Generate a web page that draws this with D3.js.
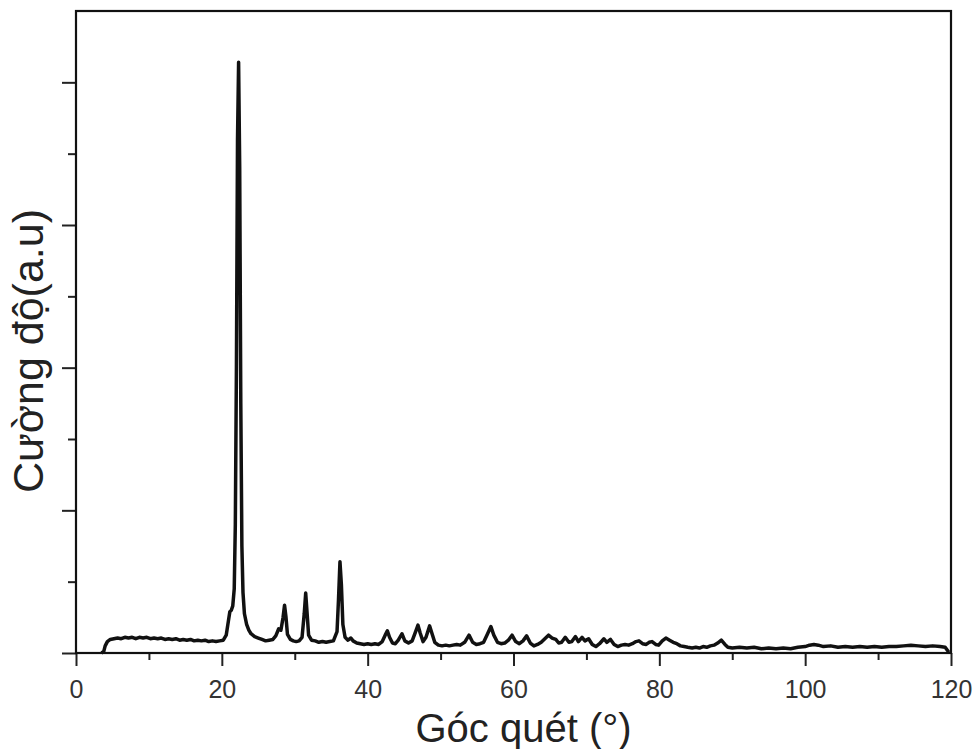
<!DOCTYPE html>
<html>
<head>
<meta charset="utf-8">
<script src="https://cdn.jsdelivr.net/npm/d3@7/dist/d3.min.js"></script>
<style>
  html, body { margin: 0; padding: 0; background: #fff; }
  svg { display: block; }
  text { font-family: "Liberation Sans", Arial, sans-serif; }
</style>
</head>
<body>
<svg id="chart" width="979" height="749"></svg>
<script>
// ---- data (2θ angle in degrees, intensity in arbitrary units) ----
const angles = [
  3.5, 3.8, 4.0, 4.3, 4.7, 5.2, 5.7, 6.2, 6.7, 7.2, 7.7, 8.2, 8.7, 9.2, 9.7, 10.2, 10.7, 11.2, 11.7, 12.2,
  12.7, 13.2, 13.7, 14.2, 14.7, 15.2, 15.7, 16.2, 16.7, 17.2, 17.7, 18.2, 18.7, 19.2, 19.7, 20.2, 20.6, 20.9,
  21.1, 21.3, 21.5, 21.7, 21.85, 22.0, 22.15, 22.3, 22.45, 22.6, 22.75, 22.9, 23.1, 23.4, 23.7, 24.0, 24.5,
  25.0, 25.5, 26.0, 26.5, 27.0, 27.4, 27.8, 28.1, 28.4, 28.6, 28.8, 29.0, 29.4, 29.8, 30.2, 30.6, 31.0, 31.3,
  31.5, 31.7, 31.9, 32.3, 32.8, 33.3, 33.8, 34.3, 34.8, 35.3, 35.8, 36.0, 36.2, 36.4, 36.6, 36.9, 37.3, 37.7,
  38.0, 38.5, 39.0, 39.5, 40.0, 40.5, 41.0, 41.5, 42.0, 42.4, 42.7, 43.0, 43.4, 43.8, 44.2, 44.7, 45.1, 45.6,
  46.1, 46.5, 46.9, 47.2, 47.6, 48.0, 48.5, 48.8, 49.2, 49.7, 50.2, 50.7, 51.2, 51.7, 52.2, 52.7, 53.3, 53.9,
  54.4, 54.9, 55.4, 55.9, 56.4, 56.9, 57.3, 57.8, 58.3, 58.8, 59.3, 59.8, 60.3, 60.8, 61.3, 61.8, 62.3, 62.8,
  63.3, 63.8, 64.3, 64.8, 65.3, 65.8, 66.2, 66.6, 67.1, 67.6, 68.0, 68.5, 68.9, 69.4, 69.8, 70.3, 70.8, 71.3,
  71.8, 72.4, 72.8, 73.3, 73.8, 74.3, 74.8, 75.3, 75.8, 76.3, 76.8, 77.2, 77.7, 78.2, 78.6, 79.0, 79.5, 79.9,
  80.4, 80.9, 81.4, 81.9, 82.4, 82.9, 83.4, 83.9, 84.5, 85.0, 85.5, 86.0, 86.5, 87.0, 87.5, 88.0, 88.5, 89.0,
  89.4, 90.0, 91.0, 92.0, 93.0, 94.0, 95.0, 96.0, 97.0, 98.0, 99.0, 100.0, 100.6, 101.2, 101.8, 102.5, 103.5,
  104.5, 105.5, 106.5, 107.5, 108.5, 109.5, 110.5, 111.5, 112.5, 113.5, 114.5, 115.5, 116.5, 117.5, 118.5,
  119.2, 119.7
];
const intensity = [
  0, 20, 100, 160, 190, 200, 210, 200, 220, 210, 220, 200, 220, 210, 220, 200, 210, 200, 210, 190,
  200, 190, 200, 180, 190, 180, 190, 170, 180, 170, 180, 160, 170, 160, 170, 180, 250, 450,
  580, 600, 660, 900, 1800, 4000, 7200, 8280, 6800, 3500, 1500, 850, 550, 400, 320, 270, 230,
  210, 190, 170, 180, 190, 240, 340, 320, 500, 670, 500, 260, 190, 170, 160, 170, 220, 550,
  840, 550, 250, 180, 170, 150, 160, 150, 160, 170, 300, 750, 1280, 950, 400, 220, 180, 210,
  170, 140, 130, 120, 130, 120, 130, 120, 160, 250, 310, 220, 140, 130, 180, 270, 170, 140,
  170, 280, 390, 280, 160, 220, 380, 280, 150, 110, 100, 110, 100, 110, 120, 110, 150, 250,
  150, 120, 130, 150, 260, 370, 250, 150, 130, 140, 180, 250, 160, 130, 170, 240, 140, 100,
  120, 150, 200, 250, 210, 190, 140, 150, 220, 150, 160, 230, 160, 220, 170, 200, 120, 90,
  130, 200, 150, 190, 120, 90, 110, 120, 110, 130, 160, 170, 130, 120, 150, 160, 120, 110,
  170, 210, 180, 150, 130, 100, 90, 80, 70, 80, 70, 90, 80, 100, 110, 140, 180, 120,
  80, 70, 80, 70, 80, 60, 70, 60, 70, 60, 80, 90, 110, 120, 110, 90, 100,
  80, 90, 80, 90, 80, 90, 80, 90, 90, 100, 110, 100, 90, 100, 90,
  80, 10
];
const xMajorTicks = [0, 20, 40, 60, 80, 100, 120];
const xMinorTicks = [10, 30, 50, 70, 90, 110];
const yMajorTicks = [0, 2000, 4000, 6000, 8000];
const yMinorTicks = [1000, 3000, 5000, 7000];
const xTitle = "Góc quét (°)";
const yTitle = "Cường độ(a.u)";

// ---- layout ----
const W = 979, H = 749;
const margin = { left: 76, top: 11, right: 28, bottom: 96 };
const iw = W - margin.left - margin.right;
const ih = H - margin.top - margin.bottom;

const svg = d3.select("#chart");
const g = svg.append("g").attr("transform", `translate(${margin.left},${margin.top})`);

const x = d3.scaleLinear().domain([0, 120]).range([0, iw]);
const y = d3.scaleLinear().domain([0, 9000]).range([ih, 0]);

// data line
const pts = angles.map((a, i) => [a, intensity[i]]);
const line = d3.line().x(d => x(d[0])).y(d => y(d[1]));
g.append("path")
  .datum(pts)
  .attr("fill", "none")
  .attr("stroke", "#111")
  .attr("stroke-width", 3.5)
  .attr("stroke-linejoin", "round")
  .attr("d", line);

// x axis ticks
const xMaj = g.append("g").attr("transform", `translate(0,${ih})`)
  .call(d3.axisBottom(x).tickValues(xMajorTicks).tickSize(13).tickPadding(14).tickFormat(d3.format("d")));
const xMin = g.append("g").attr("transform", `translate(0,${ih})`)
  .call(d3.axisBottom(x).tickValues(xMinorTicks).tickSize(7).tickFormat(""));
// y axis ticks
const yMaj = g.append("g")
  .call(d3.axisLeft(y).tickValues(yMajorTicks).tickSize(14).tickFormat(""));
const yMin = g.append("g")
  .call(d3.axisLeft(y).tickValues(yMinorTicks).tickSize(8).tickFormat(""));

[xMaj, xMin, yMaj, yMin].forEach(a => {
  a.select(".domain").remove();
  a.selectAll(".tick line").attr("stroke", "#222").attr("stroke-width", 2);
});
xMaj.selectAll(".tick text")
  .attr("fill", "#333")
  .style("font-size", "25px");

// frame
g.append("rect")
  .attr("x", 0).attr("y", 0).attr("width", iw).attr("height", ih)
  .attr("fill", "none").attr("stroke", "#111").attr("stroke-width", 2.2);

// axis titles
svg.append("text")
  .attr("x", margin.left + iw / 2 + 10)
  .attr("y", 742)
  .attr("text-anchor", "middle")
  .attr("fill", "#222")
  .style("font-size", "40px")
  .text(xTitle);

svg.append("text")
  .attr("transform", `translate(43,${351}) rotate(-90)`)
  .attr("text-anchor", "middle")
  .attr("fill", "#222")
  .style("font-size", "43px")
  .text(yTitle);
</script>
</body>
</html>
